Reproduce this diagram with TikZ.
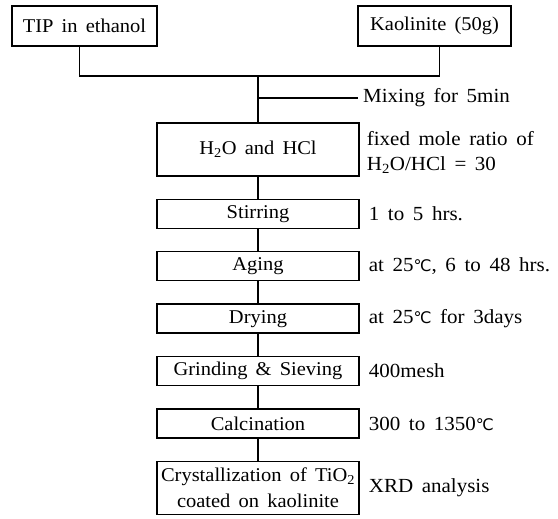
\documentclass[tikz,border=0pt]{standalone}
\usepackage{fontspec}
\setmainfont{Liberation Serif}[FakeStretch=1.05]
\newfontfamily\symfont{DejaVu Sans}
\usetikzlibrary{positioning}
\newcommand{\degC}{{\symfont\fontsize{16}{16}\selectfont ℃}}
\newcommand{\boxfont}{\fontsize{19.5}{26}\selectfont\setlength{\spaceskip}{0.42em plus 0.1em}}
\newcommand{\notefont}{\fontsize{20}{25}\selectfont\setlength{\spaceskip}{0.43em plus 0.1em}}

\begin{document}
\begin{tikzpicture}[x=1pt,y=1pt,
  font=\boxfont,
  procbox/.style={draw,line width=1.4pt,minimum width=202pt,minimum height=29pt,inner sep=0pt},
  srcbox/.style={draw,line width=1.4pt,minimum height=40pt,inner sep=0pt},
  flow/.style={line width=1.4pt},
  note/.style={inner sep=0pt,align=left,font=\notefont},
  node distance=22pt]
  \useasboundingbox (0,0) rectangle (558,519);

  % Starting materials
  \node[srcbox,minimum width=145pt] (tip) at (84.5,493) {TIP in ethanol};
  \node[srcbox,minimum width=153pt] (kao) at (434.5,493) {Kaolinite (50g)};

  % Process steps
  \node[procbox,minimum height=53pt] (acid) at (258,369.5) {H\textsubscript{2}O and HCl};
  \node[procbox,below=of acid] (stir) {Stirring};
  \node[procbox,below=of stir] (age) {Aging};
  \node[procbox,below=of age] (dry) {Drying};
  \node[procbox,below=of dry] (grind) {Grinding \& Sieving};
  \node[procbox,below=of grind] (calc) {Calcination};
  \node[procbox,below=of calc,minimum height=53pt,align=center] (cryst)
    {Crystallization of TiO\textsubscript{2}\\coated on kaolinite};

  % Joining lines
  \coordinate (join) at (258,443);
  \draw[flow] ([xshift=-5pt]tip.south) |- (join) -| ([xshift=5pt]kao.south);
  \draw[flow] (join) -- (acid.north);
  \coordinate (mix) at (258,421);
  \coordinate (mixend) at (358,421);
  \draw[flow] (mix) -- (mixend);
  \foreach \a/\b in {acid/stir,stir/age,age/dry,dry/grind,grind/calc,calc/cryst}
    \draw[flow] (\a) -- (\b);

  % Conditions
  \node[note,right=5pt of mixend] (lmix) {Mixing for 5min};
  \node[note,right=7pt of acid,yshift=-3pt] (lacid)
    {fixed mole ratio of\\H\textsubscript{2}O/HCl = 30};
  \node[note,right=9pt of stir] (lstir) {1 to 5 hrs.};
  \node[note,right=9pt of age] (lage) {at 25\degC, 6 to 48 hrs.};
  \node[note,right=9pt of dry] (ldry) {at 25\degC\ for 3days};
  \node[note,right=9pt of grind] (lgrind) {400mesh};
  \node[note,right=9pt of calc] (lcalc) {300 to 1350\degC};
  \node[note,right=9pt of cryst] (lcryst) {XRD analysis};
\end{tikzpicture}
\end{document}
